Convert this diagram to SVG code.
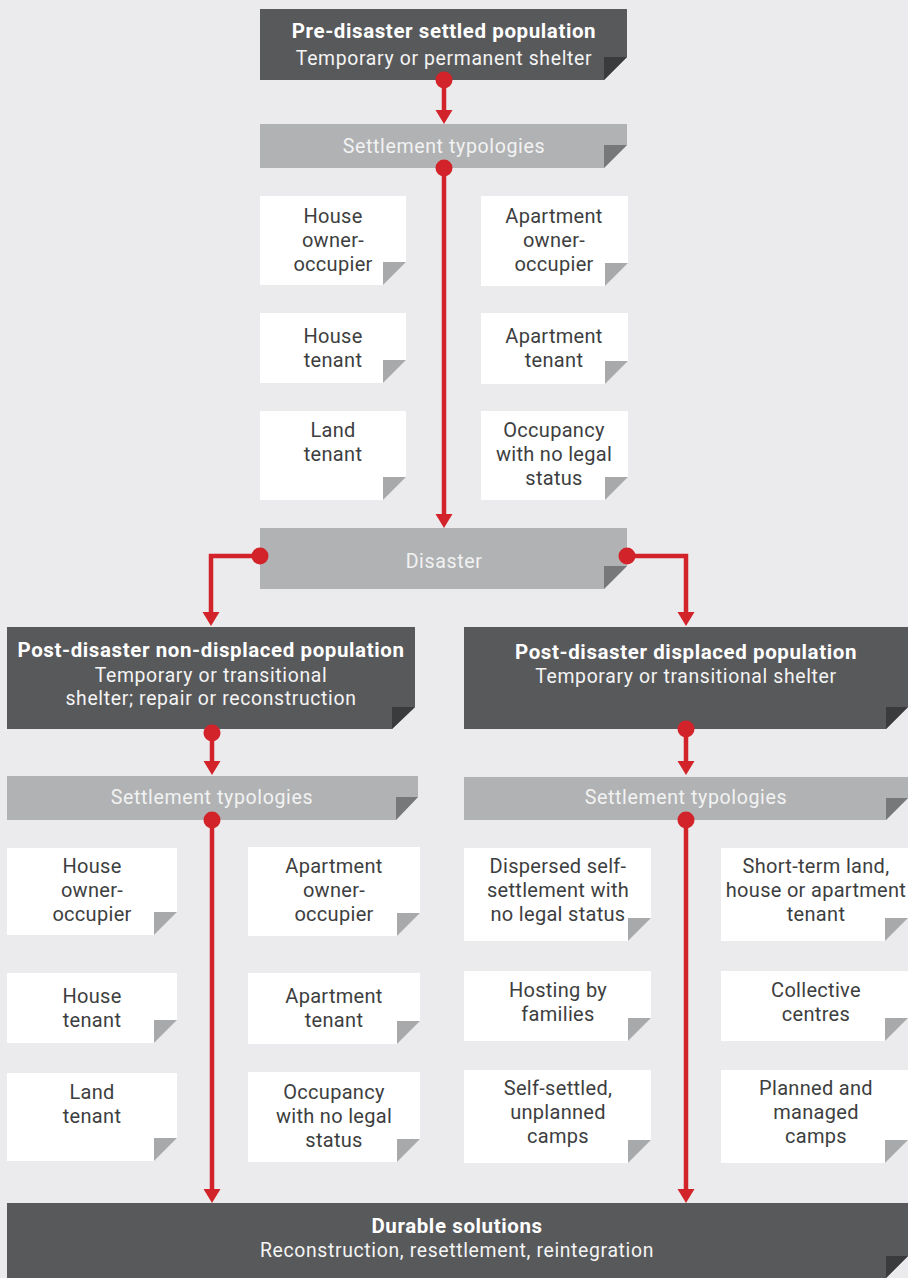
<svg xmlns="http://www.w3.org/2000/svg" width="908" height="1278" viewBox="0 0 908 1278">
<style>
.dark{fill:#58595b}
.darkf{fill:#3a3b3d}
.gray{fill:#b1b2b4}
.grayf{fill:#77787a}
.white{fill:#ffffff}
.whitef{fill:#a8a9ab}
text{font-family:Roboto,"Noto Sans",sans-serif;text-anchor:middle}
.hb{font-size:20.5px;font-weight:bold;fill:#ffffff;letter-spacing:0.6px}
.hr{font-size:19.4px;fill:#f4f4f4;letter-spacing:0.65px}
.st{font-size:19.6px;fill:#f2f2f2;letter-spacing:0.6px}
.sm{font-size:20px;fill:#3d3e40;letter-spacing:0.3px}
.con{fill:none;stroke:#d2232a;stroke-width:4.5;marker-start:url(#dot);marker-end:url(#arr)}
</style>
<defs>
<marker id="arr" markerUnits="userSpaceOnUse" orient="auto" markerWidth="20" markerHeight="20" viewBox="0 -10 16 20" refX="0" refY="0" overflow="visible">
<path d="M0,-8.5 L14,0 L0,8.5 z" fill="#d2232a"/>
</marker>
<marker id="dot" markerUnits="userSpaceOnUse" orient="auto" markerWidth="20" markerHeight="20" viewBox="-10 -10 20 20" refX="0" refY="0" overflow="visible">
<circle cx="0" cy="0" r="8.5" fill="#d2232a"/>
</marker>
</defs>
<rect x="0" y="0" width="908" height="1278" fill="#ebebed"/>

<g id="pre-disaster">
<polygon class="dark" points="260,9 627,9 627,57 604,80 260,80"/>
<polygon class="darkf" points="604,57 627,57 604,80"/>
<text class="hb" x="444" y="38">Pre-disaster settled population</text>
<text class="hr" x="444" y="65">Temporary or permanent shelter</text>
</g>

<g id="settlement-1">
<polygon class="gray" points="260,124 627,124 627,145 604,168 260,168"/>
<polygon class="grayf" points="604,145 627,145 604,168"/>
<text class="st" x="444" y="153">Settlement typologies</text>
</g>

<g id="t1-house-owner">
<polygon class="white" points="260,196 406,196 406,262 383,285 260,285"/>
<polygon class="whitef" points="383,262 406,262 383,285"/>
<text class="sm" x="333" y="223">House</text>
<text class="sm" x="333" y="247">owner-</text>
<text class="sm" x="333" y="271">occupier</text>
</g>
<g id="t1-house-tenant">
<polygon class="white" points="260,313 406,313 406,360 383,383 260,383"/>
<polygon class="whitef" points="383,360 406,360 383,383"/>
<text class="sm" x="333" y="343">House</text>
<text class="sm" x="333" y="367">tenant</text>
</g>
<g id="t1-land-tenant">
<polygon class="white" points="260,411 406,411 406,477 383,500 260,500"/>
<polygon class="whitef" points="383,477 406,477 383,500"/>
<text class="sm" x="333" y="437">Land</text>
<text class="sm" x="333" y="461">tenant</text>
</g>
<g id="t1-apt-owner">
<polygon class="white" points="481,196 628,196 628,263 605,286 481,286"/>
<polygon class="whitef" points="605,263 628,263 605,286"/>
<text class="sm" x="554" y="223">Apartment</text>
<text class="sm" x="554" y="247">owner-</text>
<text class="sm" x="554" y="271">occupier</text>
</g>
<g id="t1-apt-tenant">
<polygon class="white" points="481,313 628,313 628,361 605,384 481,384"/>
<polygon class="whitef" points="605,361 628,361 605,384"/>
<text class="sm" x="554" y="343">Apartment</text>
<text class="sm" x="554" y="367">tenant</text>
</g>
<g id="t1-occupancy">
<polygon class="white" points="481,411 628,411 628,477 605,500 481,500"/>
<polygon class="whitef" points="605,477 628,477 605,500"/>
<text class="sm" x="554" y="437">Occupancy</text>
<text class="sm" x="554" y="461">with no legal</text>
<text class="sm" x="554" y="485">status</text>
</g>

<g id="disaster">
<polygon class="gray" points="260,528 627,528 627,566 604,589 260,589"/>
<polygon class="grayf" points="604,566 627,566 604,589"/>
<text class="st" x="444" y="568">Disaster</text>
</g>

<g id="non-displaced">
<polygon class="dark" points="7,627 415,627 415,707 392,729 7,729"/>
<polygon class="darkf" points="392,707 415,707 392,729"/>
<text class="hb" x="211" y="657">Post-disaster non-displaced population</text>
<text class="hr" x="211" y="682">Temporary or transitional</text>
<text class="hr" x="211" y="705">shelter; repair or reconstruction</text>
</g>

<g id="displaced">
<polygon class="dark" points="464,627 908,627 908,707 886,729 464,729"/>
<polygon class="darkf" points="886,707 908,707 886,729"/>
<text class="hb" x="686" y="659">Post-disaster displaced population</text>
<text class="hr" x="686" y="683">Temporary or transitional shelter</text>
</g>

<g id="settlement-2">
<polygon class="gray" points="7,776 418,776 418,797 396,820 7,820"/>
<polygon class="grayf" points="396,797 418,797 396,820"/>
<text class="st" x="212" y="804">Settlement typologies</text>
</g>

<g id="settlement-3">
<polygon class="gray" points="464,777 908,777 908,798 886,820 464,820"/>
<polygon class="grayf" points="886,798 908,798 886,820"/>
<text class="st" x="686" y="804">Settlement typologies</text>
</g>

<g id="t2-house-owner">
<polygon class="white" points="7,848 177,848 177,912 154,935 7,935"/>
<polygon class="whitef" points="154,912 177,912 154,935"/>
<text class="sm" x="92" y="873">House</text>
<text class="sm" x="92" y="897">owner-</text>
<text class="sm" x="92" y="921">occupier</text>
</g>
<g id="t2-house-tenant">
<polygon class="white" points="7,973 177,973 177,1020 154,1043 7,1043"/>
<polygon class="whitef" points="154,1020 177,1020 154,1043"/>
<text class="sm" x="92" y="1003">House</text>
<text class="sm" x="92" y="1027">tenant</text>
</g>
<g id="t2-land-tenant">
<polygon class="white" points="7,1073 177,1073 177,1138 154,1161 7,1161"/>
<polygon class="whitef" points="154,1138 177,1138 154,1161"/>
<text class="sm" x="92" y="1099">Land</text>
<text class="sm" x="92" y="1123">tenant</text>
</g>
<g id="t2-apt-owner">
<polygon class="white" points="248,847 420,847 420,913 397,936 248,936"/>
<polygon class="whitef" points="397,913 420,913 397,936"/>
<text class="sm" x="334" y="873">Apartment</text>
<text class="sm" x="334" y="897">owner-</text>
<text class="sm" x="334" y="921">occupier</text>
</g>
<g id="t2-apt-tenant">
<polygon class="white" points="248,973 420,973 420,1021 397,1044 248,1044"/>
<polygon class="whitef" points="397,1021 420,1021 397,1044"/>
<text class="sm" x="334" y="1003">Apartment</text>
<text class="sm" x="334" y="1027">tenant</text>
</g>
<g id="t2-occupancy">
<polygon class="white" points="248,1072 420,1072 420,1139 397,1162 248,1162"/>
<polygon class="whitef" points="397,1139 420,1139 397,1162"/>
<text class="sm" x="334" y="1099">Occupancy</text>
<text class="sm" x="334" y="1123">with no legal</text>
<text class="sm" x="334" y="1147">status</text>
</g>

<g id="t3-dispersed">
<polygon class="white" points="464,848 651,848 651,918 628,941 464,941"/>
<polygon class="whitef" points="628,918 651,918 628,941"/>
<text class="sm" x="558" y="873">Dispersed self-</text>
<text class="sm" x="558" y="897">settlement with</text>
<text class="sm" x="558" y="921">no legal status</text>
</g>
<g id="t3-hosting">
<polygon class="white" points="464,971 651,971 651,1018 628,1041 464,1041"/>
<polygon class="whitef" points="628,1018 651,1018 628,1041"/>
<text class="sm" x="558" y="997">Hosting by</text>
<text class="sm" x="558" y="1021">families</text>
</g>
<g id="t3-self-settled">
<polygon class="white" points="464,1070 651,1070 651,1140 628,1163 464,1163"/>
<polygon class="whitef" points="628,1140 651,1140 628,1163"/>
<text class="sm" x="558" y="1095">Self-settled,</text>
<text class="sm" x="558" y="1119">unplanned</text>
<text class="sm" x="558" y="1143">camps</text>
</g>
<g id="t4-short-term">
<polygon class="white" points="721,848 908,848 908,918 885,941 721,941"/>
<polygon class="whitef" points="885,918 908,918 885,941"/>
<text class="sm" x="816" y="873">Short-term land,</text>
<text class="sm" x="816" y="897">house or apartment</text>
<text class="sm" x="816" y="921">tenant</text>
</g>
<g id="t4-collective">
<polygon class="white" points="721,971 908,971 908,1018 885,1041 721,1041"/>
<polygon class="whitef" points="885,1018 908,1018 885,1041"/>
<text class="sm" x="816" y="997">Collective</text>
<text class="sm" x="816" y="1021">centres</text>
</g>
<g id="t4-planned">
<polygon class="white" points="721,1070 908,1070 908,1140 885,1163 721,1163"/>
<polygon class="whitef" points="885,1140 908,1140 885,1163"/>
<text class="sm" x="816" y="1095">Planned and</text>
<text class="sm" x="816" y="1119">managed</text>
<text class="sm" x="816" y="1143">camps</text>
</g>

<g id="durable">
<polygon class="dark" points="7,1203 908,1203 908,1256 886,1278 7,1278"/>
<polygon class="darkf" points="886,1256 908,1256 886,1278"/>
<text class="hb" x="457" y="1233">Durable solutions</text>
<text class="hr" x="457" y="1257">Reconstruction, resettlement, reintegration</text>
</g>

<g id="connectors">
<path class="con" d="M444,80 V110"/>
<path class="con" d="M444,168 V514"/>
<path class="con" d="M260,556 H211 V612"/>
<path class="con" d="M627,556 H686 V612"/>
<path class="con" d="M212,733 V761"/>
<path class="con" d="M686,729 V761"/>
<path class="con" d="M212,820 V1189"/>
<path class="con" d="M686,820 V1189"/>
</g>
</svg>
